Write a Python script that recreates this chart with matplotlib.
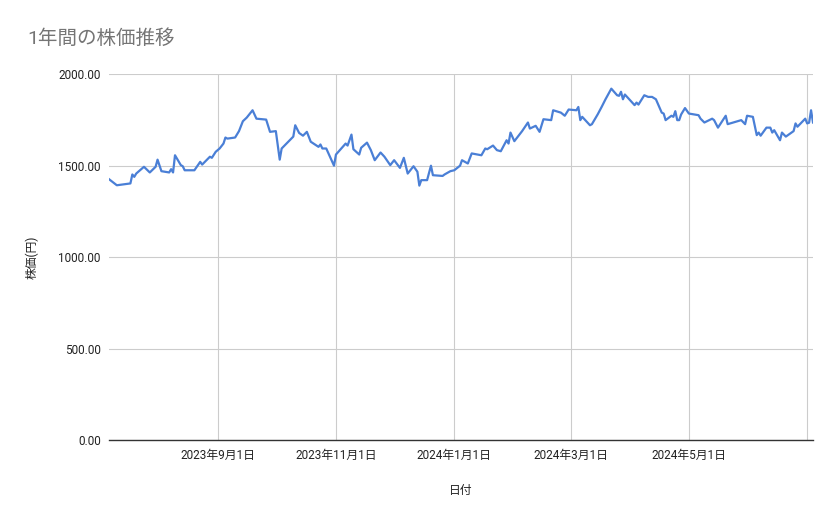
import pandas as pd
import matplotlib
matplotlib.use("Agg")
import matplotlib.pyplot as plt

plt.rcParams['font.family'] = ['Roboto', 'Noto Sans CJK JP', 'DejaVu Sans']

# data
dates = ["2023-07-07", "2023-07-11", "2023-07-18", "2023-07-19", "2023-07-20", "2023-07-21",
         "2023-07-25", "2023-07-28", "2023-07-31", "2023-08-01", "2023-08-03", "2023-08-07",
         "2023-08-08", "2023-08-09", "2023-08-10", "2023-08-13", "2023-08-14", "2023-08-15",
         "2023-08-20", "2023-08-23", "2023-08-24", "2023-08-28", "2023-08-29", "2023-08-31",
         "2023-09-02", "2023-09-04", "2023-09-05", "2023-09-06", "2023-09-10", "2023-09-12",
         "2023-09-14", "2023-09-16", "2023-09-19", "2023-09-21", "2023-09-26", "2023-09-28",
         "2023-10-01", "2023-10-03", "2023-10-04", "2023-10-10", "2023-10-11", "2023-10-13",
         "2023-10-15", "2023-10-17", "2023-10-19", "2023-10-23", "2023-10-24", "2023-10-25",
         "2023-10-27", "2023-10-31", "2023-11-01", "2023-11-03", "2023-11-06", "2023-11-07",
         "2023-11-09", "2023-11-10", "2023-11-13", "2023-11-14", "2023-11-17", "2023-11-19",
         "2023-11-21", "2023-11-24", "2023-11-26", "2023-11-29", "2023-12-01", "2023-12-04",
         "2023-12-06", "2023-12-08", "2023-12-11", "2023-12-13", "2023-12-14", "2023-12-15",
         "2023-12-18", "2023-12-20", "2023-12-21", "2023-12-26", "2023-12-27", "2023-12-30",
         "2024-01-01", "2024-01-04", "2024-01-05", "2024-01-08", "2024-01-10", "2024-01-15",
         "2024-01-17", "2024-01-18", "2024-01-21", "2024-01-23", "2024-01-25", "2024-01-28",
         "2024-01-29", "2024-01-30", "2024-02-01", "2024-02-05", "2024-02-08", "2024-02-09",
         "2024-02-12", "2024-02-14", "2024-02-16", "2024-02-20", "2024-02-21", "2024-02-25",
         "2024-02-27", "2024-02-29", "2024-03-04", "2024-03-05", "2024-03-06", "2024-03-07",
         "2024-03-11", "2024-03-12", "2024-03-15", "2024-03-17", "2024-03-19", "2024-03-22",
         "2024-03-25", "2024-03-26", "2024-03-27", "2024-03-28", "2024-03-29", "2024-04-03",
         "2024-04-04", "2024-04-05", "2024-04-08", "2024-04-10", "2024-04-12", "2024-04-14",
         "2024-04-17", "2024-04-18", "2024-04-19", "2024-04-22", "2024-04-23", "2024-04-24",
         "2024-04-25", "2024-04-26", "2024-04-27", "2024-04-29", "2024-05-01", "2024-05-06",
         "2024-05-07", "2024-05-09", "2024-05-13", "2024-05-14", "2024-05-16", "2024-05-20",
         "2024-05-21", "2024-05-28", "2024-05-30", "2024-05-31", "2024-06-03", "2024-06-05",
         "2024-06-06", "2024-06-07", "2024-06-10", "2024-06-12", "2024-06-13", "2024-06-14",
         "2024-06-17", "2024-06-18", "2024-06-20", "2024-06-24", "2024-06-25", "2024-06-26",
         "2024-06-30", "2024-07-01", "2024-07-02", "2024-07-03", "2024-07-04"]
prices = [1426, 1393, 1403, 1452, 1439, 1457,
          1494, 1463, 1494, 1533, 1470, 1463,
          1481, 1463, 1557, 1503, 1497, 1475,
          1475, 1521, 1506, 1549, 1543, 1576,
          1594, 1621, 1654, 1648, 1654, 1689,
          1743, 1763, 1803, 1757, 1752, 1685,
          1689, 1533, 1594, 1659, 1721, 1679,
          1664, 1685, 1631, 1603, 1616, 1594,
          1594, 1500, 1561, 1585, 1621, 1610,
          1670, 1590, 1561, 1598, 1626, 1585,
          1530, 1572, 1549, 1503, 1530, 1488,
          1543, 1457, 1497, 1467, 1391, 1421,
          1421, 1500, 1448, 1444, 1452, 1470,
          1475, 1500, 1530, 1512, 1567, 1557,
          1594, 1590, 1610, 1585, 1579, 1639,
          1621, 1681, 1634, 1689, 1736, 1703,
          1718, 1685, 1754, 1749, 1803, 1790,
          1773, 1807, 1803, 1821, 1749, 1767,
          1721, 1727, 1781, 1821, 1863, 1921,
          1885, 1882, 1904, 1863, 1889, 1831,
          1845, 1834, 1885, 1876, 1876, 1863,
          1790, 1785, 1749, 1773, 1767, 1798,
          1749, 1749, 1780, 1815, 1785, 1776,
          1757, 1736, 1757, 1749, 1708, 1773,
          1727, 1749, 1727, 1773, 1767, 1667,
          1681, 1664, 1708, 1708, 1681, 1694,
          1639, 1681, 1659, 1689, 1731, 1713,
          1757, 1731, 1735, 1803, 1736]

tick_dates = ["2023-09-01", "2023-11-01", "2024-01-01", "2024-03-01", "2024-05-01", "2024-07-01"]
tick_labels = ["2023年9月1日", "2023年11月1日", "2024年1月1日", "2024年3月1日", "2024年5月1日", ""]
y_ticks = [0, 500, 1000, 1500, 2000]

df = pd.DataFrame({"date": pd.to_datetime(dates), "price": prices})

fig = plt.figure(figsize=(8.39, 5.19), dpi=100)
ax = fig.add_axes([0.130, 0.152, 0.839, 0.705])

ax.plot(df["date"], df["price"], color="#4a7fd6", linewidth=1.6)

ax.set_xlim(df["date"].iloc[0], df["date"].iloc[-1])
ax.set_ylim(0, 2000)
ax.set_yticks(y_ticks)
ax.set_yticklabels([f"{v:.2f}" for v in y_ticks])
ax.set_xticks(pd.to_datetime(tick_dates))
ax.set_xticklabels(tick_labels)

ax.grid(True, color="#cccccc", linewidth=0.8)
ax.set_axisbelow(True)
ax.tick_params(length=0, labelsize=8.5, colors="#222222", pad=6)
for s in ["top", "right", "left"]:
    ax.spines[s].set_visible(False)
ax.spines["bottom"].set_color("#333333")
ax.spines["bottom"].set_linewidth(1)

ax.set_xlabel("日付", fontsize=8.5, color="#222222", labelpad=16)
ax.set_ylabel("株価(円)", fontsize=8.5, color="#222222", labelpad=14)

fig.text(0.033, 0.925, "1年間の株価推移", fontsize=14, color="#757575", va="center")

fig.savefig("out.png", dpi=100)
